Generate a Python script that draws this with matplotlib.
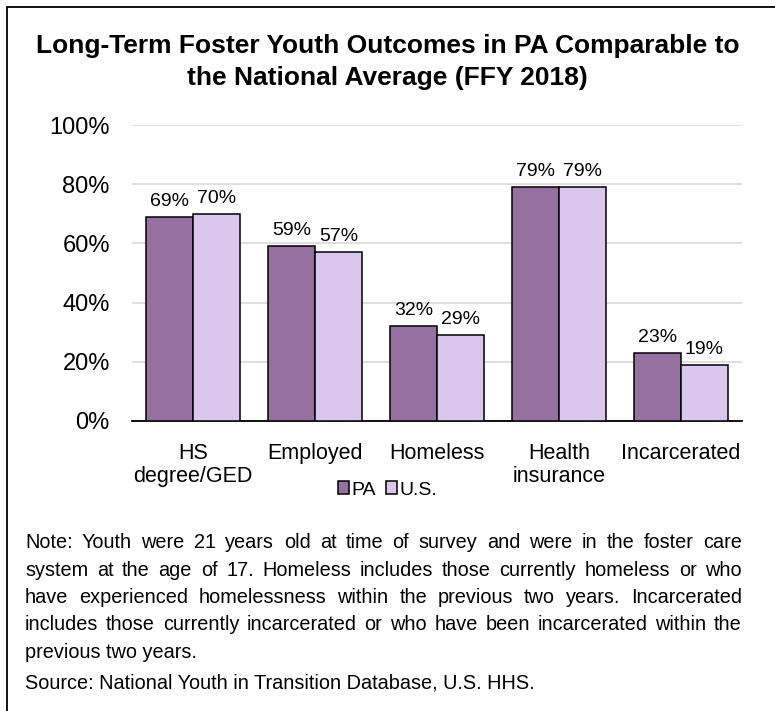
import numpy as np
import matplotlib.pyplot as plt
from matplotlib.patches import Rectangle
from matplotlib.ticker import PercentFormatter

plt.rcParams['font.family'] = ['Liberation Sans', 'DejaVu Sans']

categories = ["HS\ndegree/GED", "Employed", "Homeless", "Health\ninsurance", "Incarcerated"]
pa_values = [69, 59, 32, 79, 23]
us_values = [70, 57, 29, 79, 19]
series_names = ["PA", "U.S."]

title = "Long-Term Foster Youth Outcomes in PA Comparable to\nthe National Average (FFY 2018)"
note_lines = [
    "Note: Youth were 21 years old at time of survey and were in the foster care",
    "system at the age of 17. Homeless includes those currently homeless or who",
    "have experienced homelessness within the previous two years. Incarcerated",
    "includes those currently incarcerated or who have been incarcerated within the",
    "previous two years.",
]
source = "Source: National Youth in Transition Database, U.S. HHS."

pa_color = "#9670a0"
us_color = "#d9c7ed"

W, H = 775, 711
fig = plt.figure(figsize=(W / 100, H / 100), dpi=100)

# outer frame (only top/left edges fall inside the canvas)
fig.patches.append(Rectangle((7 / W, -0.1), 1.2, 1 - 7 / H + 0.1, transform=fig.transFigure,
                             fill=False, edgecolor="black", linewidth=1.3))

ax = fig.add_axes([132 / W, 1 - 421 / H, (742 - 132) / W, (421 - 125) / H])

x = np.arange(len(categories))
bw = 0.385
b1 = ax.bar(x - bw / 2, pa_values, bw, color=pa_color, edgecolor="black", linewidth=1.1,
            label=series_names[0], zorder=3)
b2 = ax.bar(x + bw / 2, us_values, bw, color=us_color, edgecolor="black", linewidth=1.1,
            label=series_names[1], zorder=3)
for bars, vals in ((b1, pa_values), (b2, us_values)):
    for rect, v in zip(bars, vals):
        ax.annotate(f"{v}%", (rect.get_x() + rect.get_width() / 2, v), xytext=(0, 5),
                    textcoords="offset points", ha="center", va="bottom", fontsize=14)

ax.set_xlim(-0.5, len(categories) - 0.5)
ax.set_ylim(0, 100)
ax.set_yticks(range(0, 101, 20))
ax.yaxis.set_major_formatter(PercentFormatter(decimals=0))
ax.grid(axis="y", color="#d9d9d9", linewidth=1.2, zorder=0)
for s in ("top", "right", "left"):
    ax.spines[s].set_visible(False)
ax.spines["bottom"].set_linewidth(1.3)
ax.tick_params(axis="y", length=0, labelsize=17, pad=16)
ax.tick_params(axis="x", length=0, labelsize=15.5, pad=16)
ax.set_xticks(x)
ax.set_xticklabels(categories, linespacing=1.1)

fig.legend(handles=[b1, b2], loc="center", bbox_to_anchor=(0.5, 1 - 490 / H), ncol=2,
           frameon=False, fontsize=14, handlelength=0.55, handleheight=0.65,
           handletextpad=0.12, columnspacing=0.55, borderpad=0)

fig.text(0.5, 1 - 62 / H, title, ha="center", va="center", fontsize=19,
         fontweight="bold", linespacing=1.45)

# justified note paragraph
renderer = fig.canvas.get_renderer()
left, right = 25 / W, 742 / W
fs = 14.3
y0 = 1 - 541 / H
step = 27.3 / H
for i, line in enumerate(note_lines):
    y = y0 - i * step
    words = line.split(" ")
    if i == len(note_lines) - 1:
        fig.text(left, y, line, ha="left", va="center_baseline", fontsize=fs)
        continue
    texts = [fig.text(0, y, w, ha="left", va="center_baseline", fontsize=fs) for w in words]
    widths = [t.get_window_extent(renderer).width / W for t in texts]
    gap = (right - left - sum(widths)) / (len(words) - 1)
    xpos = left
    for t, wd in zip(texts, widths):
        t.set_x(xpos)
        xpos += wd + gap

fig.text(left, 1 - 681 / H, source, ha="left", va="center_baseline", fontsize=fs)

fig.savefig("out.png", dpi=100)
